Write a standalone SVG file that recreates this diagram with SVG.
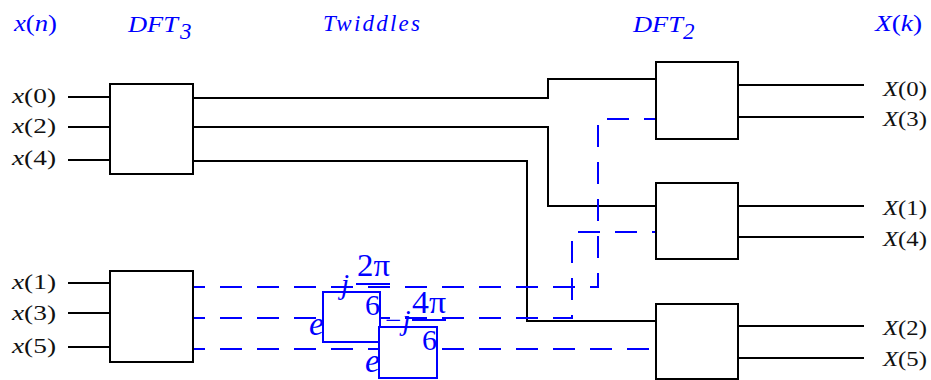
<svg xmlns="http://www.w3.org/2000/svg" width="931" height="380" viewBox="0 0 931 380">
<style>
.box{fill:#fff;stroke:#000;stroke-width:2}
.tw{fill:#fff;stroke:#00f;stroke-width:2}
.w{fill:none;stroke:#000;stroke-width:2}
.d{fill:none;stroke:#00f;stroke-width:2;stroke-dasharray:22 15}
.lbl{font-family:"Liberation Serif","Times New Roman",serif;font-size:22px;fill:#111}
.hd{font-family:"Liberation Serif","Times New Roman",serif;font-size:23px;fill:#00f;font-style:italic}
.m{font-family:"Liberation Serif","Times New Roman",serif;fill:#00f}
.i{font-style:italic}
</style>
<rect width="931" height="380" fill="#fff"/>

<g id="headers">
<text class="hd" x="14" y="31" textLength="43" lengthAdjust="spacingAndGlyphs">x<tspan font-style="normal">(</tspan>n<tspan font-style="normal">)</tspan></text>
<text class="hd" x="128" y="32" textLength="50" lengthAdjust="spacingAndGlyphs">DFT</text>
<text class="hd" x="180" y="39" font-size="16">3</text>
<text class="hd" x="323" y="31" textLength="97" lengthAdjust="spacing">Twiddles</text>
<text class="hd" x="633" y="32" textLength="50" lengthAdjust="spacingAndGlyphs">DFT</text>
<text class="hd" x="683" y="39" font-size="16">2</text>
<text class="hd" x="875" y="31" textLength="47" lengthAdjust="spacingAndGlyphs">X<tspan font-style="normal">(</tspan>k<tspan font-style="normal">)</tspan></text>
</g>

<g id="connectors">
<path class="w" d="M68 97H110M68 127H110M68 160H110M68 283H110M68 313H110M68 347H110"/>
<path class="w" d="M193 98H548V79H656"/>
<path class="w" d="M193 127H548V206H656"/>
<path class="w" d="M193 161H527V321H656"/>
<path class="w" d="M738 85H864M738 117H864M738 206H864M738 237H864M738 326H864M738 358H864"/>
<path class="d" d="M193 287H598V119H656" stroke-dashoffset="10"/>
<path class="d" d="M193 318H572V232H656" stroke-dashoffset="10"/>
<path class="d" d="M193 349H656" stroke-dashoffset="10"/>
</g>

<g id="dft3-top"><rect class="box" x="110" y="84" width="83" height="90"/></g>
<g id="dft3-bottom"><rect class="box" x="110" y="271" width="83" height="91"/></g>
<g id="dft2-a"><rect class="box" x="656" y="62" width="82" height="77"/></g>
<g id="dft2-b"><rect class="box" x="656" y="183" width="82" height="76"/></g>
<g id="dft2-c"><rect class="box" x="656" y="304" width="82" height="75"/></g>

<g id="twiddle-1">
<rect class="tw" x="323" y="292" width="57" height="50"/>
<text class="m i" x="309" y="335" font-size="33" textLength="15" lengthAdjust="spacingAndGlyphs">e</text>
<text class="m i" x="341" y="294" font-size="29">j</text>
<text class="m" x="357" y="276" font-size="32" textLength="33" lengthAdjust="spacingAndGlyphs">2π</text>
<line x1="356" y1="284" x2="390" y2="284" stroke="#00f" stroke-width="2"/>
<text class="m" x="365" y="315" font-size="30" textLength="15" lengthAdjust="spacingAndGlyphs">6</text>
</g>

<g id="twiddle-2">
<rect class="tw" x="379" y="327" width="58" height="51"/>
<text class="m i" x="365" y="372" font-size="33" textLength="15" lengthAdjust="spacingAndGlyphs">e</text>
<text class="m i" x="383" y="330" font-size="29">−j</text>
<text class="m" x="412" y="313" font-size="32" textLength="34" lengthAdjust="spacingAndGlyphs">4π</text>
<line x1="412" y1="320" x2="446" y2="320" stroke="#00f" stroke-width="2"/>
<text class="m" x="422" y="350" font-size="30" textLength="15" lengthAdjust="spacingAndGlyphs">6</text>
</g>

<g id="labels">
<text class="lbl" x="12" y="103" textLength="44" lengthAdjust="spacingAndGlyphs"><tspan font-style="italic">x</tspan>(0)</text>
<text class="lbl" x="12" y="133" textLength="44" lengthAdjust="spacingAndGlyphs"><tspan font-style="italic">x</tspan>(2)</text>
<text class="lbl" x="12" y="165" textLength="44" lengthAdjust="spacingAndGlyphs"><tspan font-style="italic">x</tspan>(4)</text>
<text class="lbl" x="12" y="289" textLength="44" lengthAdjust="spacingAndGlyphs"><tspan font-style="italic">x</tspan>(1)</text>
<text class="lbl" x="12" y="320" textLength="44" lengthAdjust="spacingAndGlyphs"><tspan font-style="italic">x</tspan>(3)</text>
<text class="lbl" x="12" y="353" textLength="44" lengthAdjust="spacingAndGlyphs"><tspan font-style="italic">x</tspan>(5)</text>
<text class="lbl" x="883" y="96" textLength="44" lengthAdjust="spacingAndGlyphs"><tspan font-style="italic">X</tspan>(0)</text>
<text class="lbl" x="883" y="126" textLength="44" lengthAdjust="spacingAndGlyphs"><tspan font-style="italic">X</tspan>(3)</text>
<text class="lbl" x="883" y="215" textLength="44" lengthAdjust="spacingAndGlyphs"><tspan font-style="italic">X</tspan>(1)</text>
<text class="lbl" x="883" y="246" textLength="44" lengthAdjust="spacingAndGlyphs"><tspan font-style="italic">X</tspan>(4)</text>
<text class="lbl" x="883" y="335" textLength="44" lengthAdjust="spacingAndGlyphs"><tspan font-style="italic">X</tspan>(2)</text>
<text class="lbl" x="883" y="366" textLength="44" lengthAdjust="spacingAndGlyphs"><tspan font-style="italic">X</tspan>(5)</text>
</g>
</svg>
